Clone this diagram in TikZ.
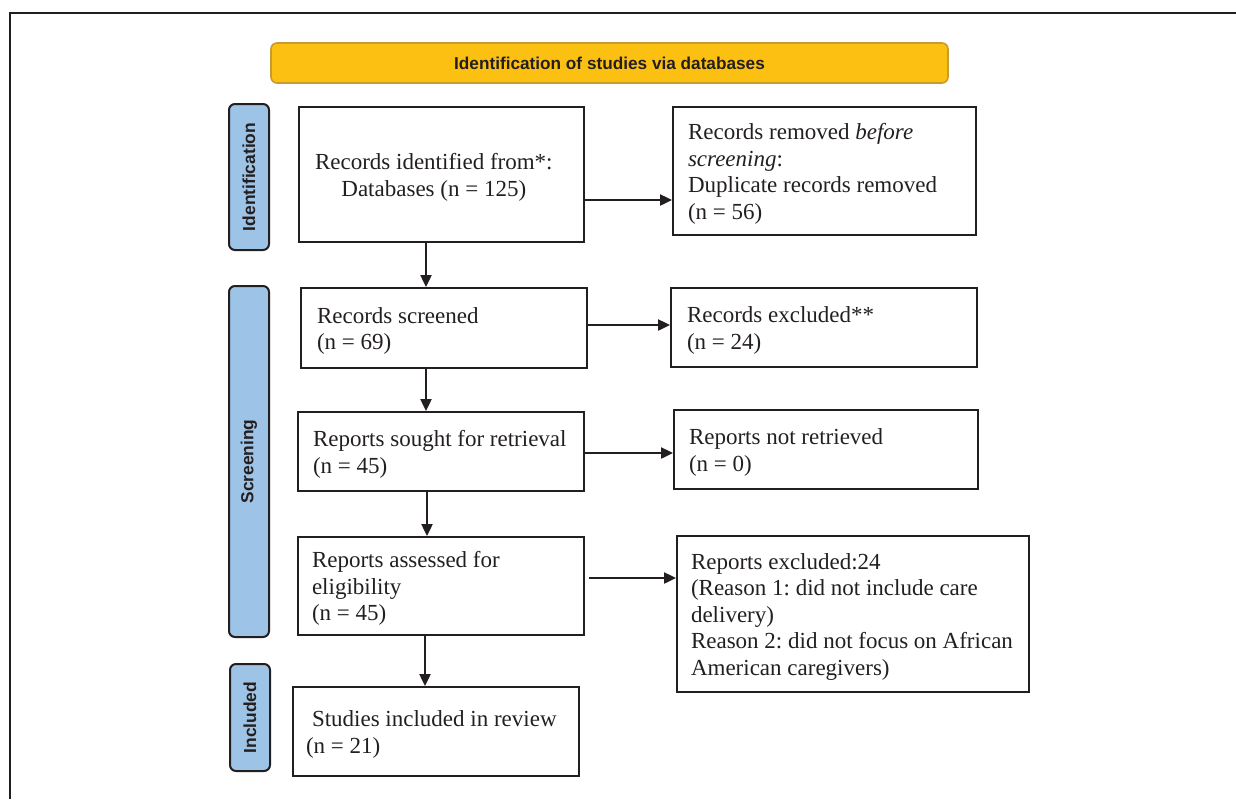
\documentclass[tikz,border=0pt]{standalone}
\usepackage{fontspec}
\setmainfont{Liberation Serif}
\setsansfont{Liberation Sans}
\usetikzlibrary{arrows.meta}
\frenchspacing
\definecolor{ink}{HTML}{231F20}
\definecolor{gold}{HTML}{FCC013}
\definecolor{golddark}{HTML}{C99A2E}
\definecolor{sideblue}{HTML}{9DC3E6}
\newcommand{\boxlines}[3][l]{\makebox[#2][l]{\begin{tabular}{@{}#1@{}}\noalign{\vskip3pt}#3\end{tabular}}}
\tikzset{
  box/.style={draw=ink, line width=1pt, rectangle, inner sep=0pt,
    text=ink, font=\fontsize{11.5}{13.25}\selectfont\frenchspacing},
  side/.style={draw=ink, line width=1pt, rounded corners=3pt, fill=sideblue,
    inner sep=0pt, minimum width=20pt, text=ink,
    font=\sffamily\bfseries\fontsize{8.7}{10}\selectfont},
  arr/.style={draw=ink, line width=0.85pt, -{Triangle[length=6pt,width=5.6pt]}},
}
\begin{document}
\begin{tikzpicture}[x=0.5pt,y=-0.5pt]
\useasboundingbox (0,0) rectangle (1236,799);
% outer frame
\draw[ink, line width=0.8pt] (10,799) -- (10,13) -- (1236,13);
% title
\node[draw=golddark, line width=0.8pt, fill=gold, rounded corners=3pt,
  minimum width=338.5pt, minimum height=20pt, inner sep=0pt, text=ink,
  font=\sffamily\bfseries\fontsize{8.6}{10}\selectfont] (title) at (609.5,63)
  {Identification of studies via databases};
% side labels
\node[side, minimum height=73pt] (sid) at (249,177) {\rotatebox{90}{Identification}};
\node[side, minimum height=175.5pt] (sscr) at (249,461.5) {\rotatebox{90}{Screening}};
\node[side, minimum height=53.5pt] (sinc) at (250,717.5) {\rotatebox{90}{Included}};
% left column
\node[box, minimum width=142.5pt, minimum height=67.5pt] (b1) at (441.5,174.5)
  {\boxlines[c]{126.5pt}{Records identified from*:\\Databases (n = 125)}};
\node[box, minimum width=143pt, minimum height=40pt] (b3) at (444,328)
  {\boxlines{127pt}{Records screened\\(n = 69)}};
\node[box, minimum width=143pt, minimum height=39.5pt] (b5) at (441,451.5)
  {\boxlines{128pt}{Reports sought for retrieval\\(n = 45)}};
\node[box, minimum width=143pt, minimum height=49pt] (b7) at (441,586)
  {\boxlines{129pt}{Reports assessed for\\eligibility\\(n = 45)}};
\node[box, minimum width=143pt, minimum height=44.5pt] (b9) at (436,731.5)
  {\boxlines{130pt}{\hspace{3pt}Studies included in review\\(n = 21)}};
% right column
\node[box, minimum width=151.5pt, minimum height=64pt] (b2) at (824.5,171)
  {\boxlines{136.5pt}{Records removed \textit{before}\\\textit{screening}:\\Duplicate records removed\\(n = 56)}};
\node[box, minimum width=153pt, minimum height=39.5pt] (b4) at (824,327.5)
  {\boxlines{137pt}{Records excluded**\\(n = 24)}};
\node[box, minimum width=152pt, minimum height=39.5pt] (b6) at (826,449.5)
  {\boxlines{137pt}{Reports not retrieved\\(n = 0)}};
\node[box, minimum width=176pt, minimum height=78pt] (b8) at (853,614)
  {\boxlines{162pt}{Reports excluded:24\\(Reason 1: did not include care\\delivery)\\Reason 2: did not focus on African\\American caregivers)}};
% connector guides
\coordinate (c1) at (426,0);
\coordinate (c2) at (426,0);
\coordinate (c3) at (427,0);
\coordinate (c4) at (425,0);
\coordinate (r1) at (0,200);
\coordinate (r2) at (0,325);
\coordinate (r3) at (0,453);
\coordinate (r4) at (0,578);
% vertical arrows
\draw[arr] (b1.south -| c1) -- (b3.north -| c1);
\draw[arr] (b3.south -| c2) -- (b5.north -| c2);
\draw[arr] (b5.south -| c3) -- (b7.north -| c3);
\draw[arr] (b7.south -| c4) -- (b9.north -| c4);
% horizontal arrows
\draw[arr] (b1.east |- r1) -- (b2.west |- r1);
\draw[arr] (b3.east |- r2) -- (b4.west |- r2);
\draw[arr] (b5.east |- r3) -- (b6.west |- r3);
\draw[arr] ([xshift=2pt]b7.east |- r4) -- (b8.west |- r4);
\end{tikzpicture}
\end{document}
